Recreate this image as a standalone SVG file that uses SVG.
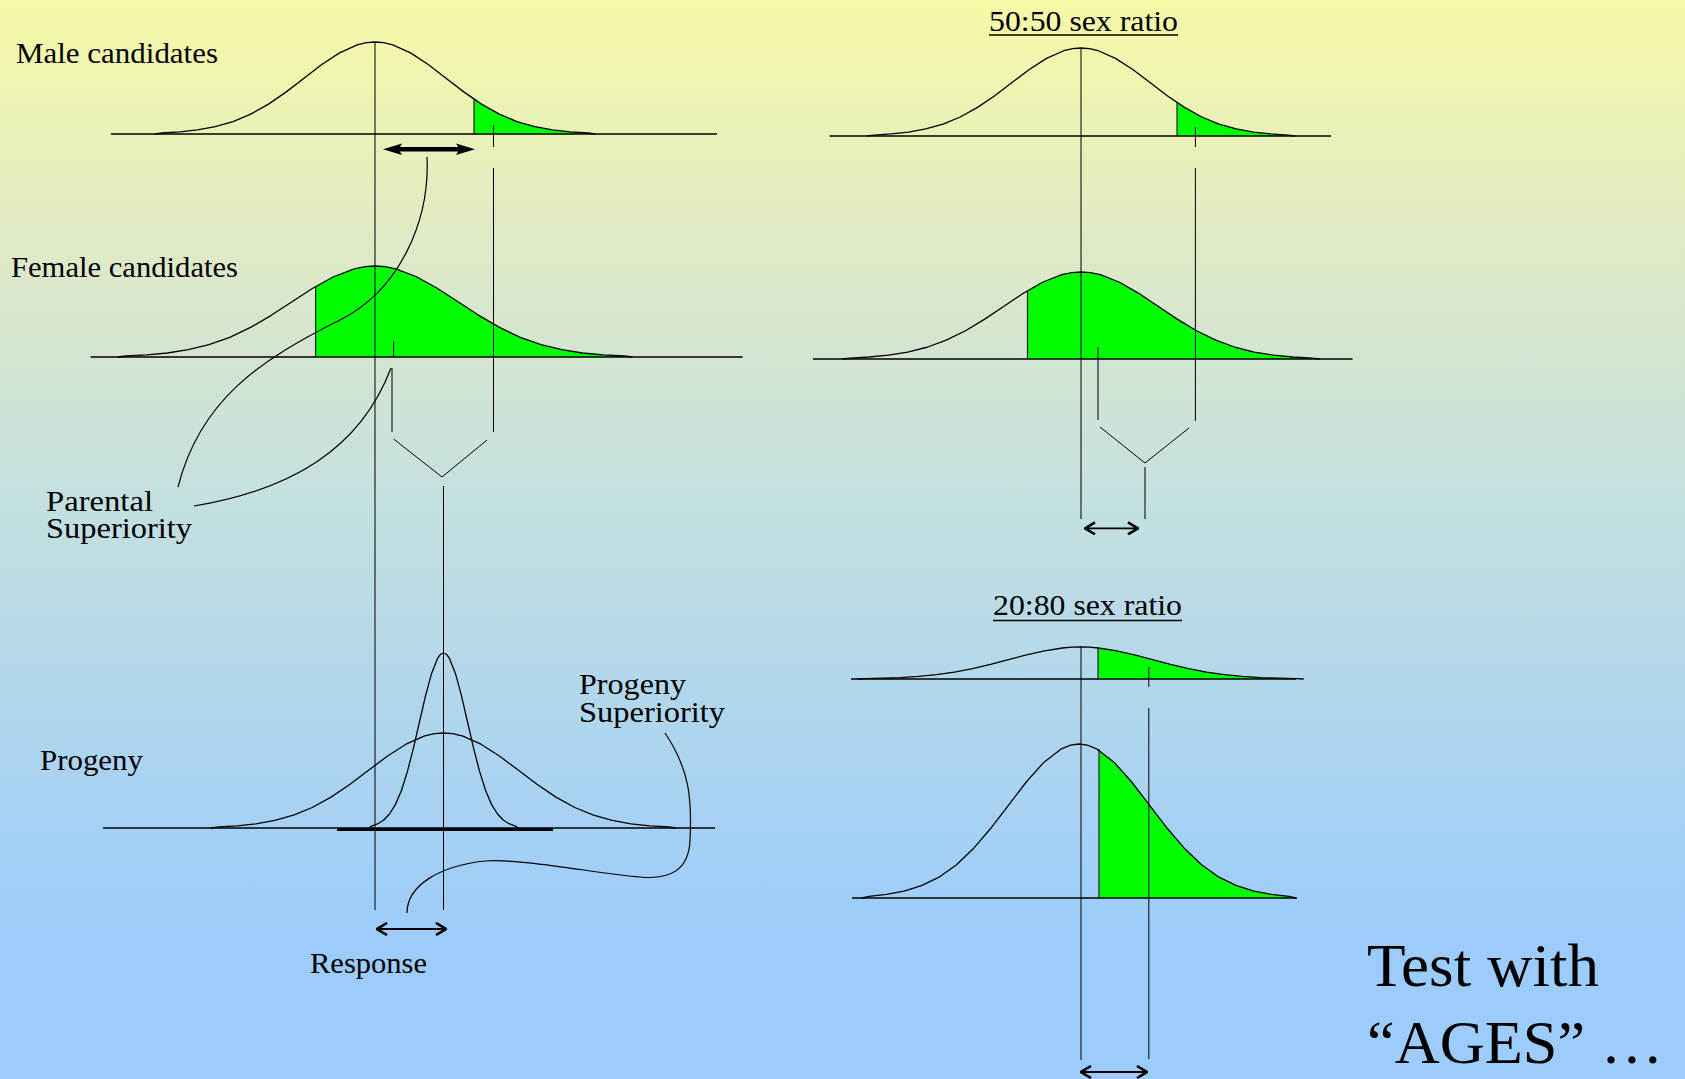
<svg xmlns="http://www.w3.org/2000/svg" width="1685" height="1079" viewBox="0 0 1685 1079">
<style>
.lbl{font-family:"Liberation Serif","Times New Roman",serif;font-size:29px;fill:#000}
.big{font-family:"Liberation Serif","Times New Roman",serif;font-size:62px;fill:#000}
.curve{fill:none;stroke:#000;stroke-width:1.3;stroke-linejoin:round}
.area{fill:#00FF00;stroke:none}
.base{stroke:#000;stroke-width:1.6;fill:none}
.thin{stroke:#000;stroke-width:1;fill:none}
.ptr{stroke:#000;stroke-width:1.2;fill:none}
.dbl{stroke:#000;stroke-width:1.8;fill:none;marker-start:url(#chev);marker-end:url(#chev)}
.edge{stroke:#222;stroke-width:1.2}
</style>
<defs>
<linearGradient id="bg" gradientUnits="userSpaceOnUse" x1="0" y1="0" x2="0" y2="935">
<stop offset="0" stop-color="#F7F9A6"/>
<stop offset="0.28" stop-color="#DDE9C8"/>
<stop offset="0.53" stop-color="#C4E0DF"/>
<stop offset="1" stop-color="#9CCCFB"/>
</linearGradient>
<path id="gauss" vector-effect="non-scaling-stroke" d="M-310,0 L-300,-1.1 L-275,-2.3 L-250,-4.4 L-225,-8 L-200,-13.5 L-175,-21.6 L-150,-32.5 L-125,-45.8 L-100,-60.7 L-75,-75.5 L-50,-88.2 L-25,-96.9 L-12,-99.3 L0,-100 L12,-99.3 L25,-96.9 L50,-88.2 L75,-75.5 L100,-60.7 L125,-45.8 L150,-32.5 L175,-21.6 L200,-13.5 L225,-8 L250,-4.4 L275,-2.3 L300,-1.1 L310,0"/>
<clipPath id="c1"><rect x="474" y="0" width="400" height="1079"/></clipPath>
<clipPath id="c2"><rect x="315.6" y="0" width="500" height="1079"/></clipPath>
<clipPath id="c5"><rect x="1177" y="0" width="400" height="1079"/></clipPath>
<clipPath id="c6"><rect x="1027.5" y="0" width="500" height="1079"/></clipPath>
<clipPath id="c7"><rect x="1098" y="0" width="400" height="1079"/></clipPath>
<clipPath id="c8"><rect x="1099" y="0" width="400" height="1079"/></clipPath>
<marker id="chev" viewBox="0 0 12 14" refX="11" refY="7" markerWidth="12" markerHeight="14" markerUnits="userSpaceOnUse" orient="auto-start-reverse">
<path d="M1,1 L11,7 L1,13" fill="none" stroke="#000" stroke-width="2.6"/>
</marker>
</defs>
<rect x="0" y="0" width="1685" height="1079" fill="url(#bg)"/>

<g id="male-candidates">
<g clip-path="url(#c1)"><use href="#gauss" class="area" transform="translate(375,134) scale(0.71,0.92)"/></g>
<line class="edge" x1="474" y1="99" x2="474" y2="134"/>
<use href="#gauss" class="curve" transform="translate(375,134) scale(0.71,0.92)"/>
<line class="base" x1="111" y1="134" x2="717" y2="134"/>
<text class="lbl" x="16" y="63" textLength="202" lengthAdjust="spacingAndGlyphs">Male candidates</text>
</g>

<g id="female-candidates">
<g clip-path="url(#c2)"><use href="#gauss" class="area" transform="translate(375,357) scale(0.83,0.91)"/></g>
<line class="edge" x1="315.6" y1="286.5" x2="315.6" y2="357"/>
<use href="#gauss" class="curve" transform="translate(375,357) scale(0.83,0.91)"/>
<line class="base" x1="90.6" y1="357" x2="742.6" y2="357"/>
<text class="lbl" x="11" y="277" textLength="227" lengthAdjust="spacingAndGlyphs">Female candidates</text>
</g>

<g id="parental-superiority">
<text class="lbl" x="46" y="511" textLength="107" lengthAdjust="spacingAndGlyphs">Parental</text>
<text class="lbl" x="46" y="538" textLength="146" lengthAdjust="spacingAndGlyphs">Superiority</text>
</g>

<g id="progeny">
<use href="#gauss" class="curve" transform="translate(443.5,828) scale(0.75,0.95)"/>
<use href="#gauss" class="curve" transform="translate(443.5,828) scale(0.24,1.75)"/>
<line class="base" x1="103" y1="828" x2="715" y2="828"/>
<line stroke="#000" stroke-width="2.8" x1="337" y1="829.5" x2="553" y2="829.5"/>
<text class="lbl" x="40" y="770" textLength="103" lengthAdjust="spacingAndGlyphs">Progeny</text>
</g>

<g id="progeny-superiority">
<text class="lbl" x="579" y="694" textLength="107" lengthAdjust="spacingAndGlyphs">Progeny</text>
<text class="lbl" x="579" y="722" textLength="146" lengthAdjust="spacingAndGlyphs">Superiority</text>
</g>

<g id="response">
<text class="lbl" x="310" y="973" textLength="117" lengthAdjust="spacingAndGlyphs">Response</text>
</g>

<g id="ratio-50-50">
<text class="lbl" x="989" y="31" font-size="31" textLength="189" lengthAdjust="spacingAndGlyphs">50:50 sex ratio</text>
<line stroke="#000" stroke-width="1.6" x1="989" y1="35" x2="1178" y2="35"/>
<g clip-path="url(#c5)"><use href="#gauss" class="area" transform="translate(1081,136) scale(0.69,0.88)"/></g>
<line class="edge" x1="1177" y1="102.6" x2="1177" y2="136"/>
<use href="#gauss" class="curve" transform="translate(1081,136) scale(0.69,0.88)"/>
<line class="base" x1="829.6" y1="136" x2="1331" y2="136"/>
<g clip-path="url(#c6)"><use href="#gauss" class="area" transform="translate(1081,359) scale(0.77,0.87)"/></g>
<line class="edge" x1="1027.5" y1="290.7" x2="1027.5" y2="359"/>
<use href="#gauss" class="curve" transform="translate(1081,359) scale(0.77,0.87)"/>
<line class="base" x1="813" y1="359" x2="1352.5" y2="359"/>
</g>

<g id="ratio-20-80">
<text class="lbl" x="993" y="615" font-size="31" textLength="189" lengthAdjust="spacingAndGlyphs">20:80 sex ratio</text>
<line stroke="#000" stroke-width="1.6" x1="993" y1="620.5" x2="1182" y2="620.5"/>
<g clip-path="url(#c7)"><use href="#gauss" class="area" transform="translate(1080.5,679) scale(0.72,0.32)"/></g>
<line class="edge" x1="1098" y1="648" x2="1098" y2="679"/>
<use href="#gauss" class="curve" transform="translate(1080.5,679) scale(0.72,0.32)"/>
<line class="base" x1="851" y1="679" x2="1296" y2="679"/>
<g clip-path="url(#c8)"><use href="#gauss" class="area" transform="translate(1079,898) scale(0.7,1.54)"/></g>
<line class="edge" x1="1099" y1="749" x2="1099" y2="898"/>
<use href="#gauss" class="curve" transform="translate(1079,898) scale(0.7,1.54)"/>
<line class="base" x1="852" y1="898" x2="1297" y2="898"/>
</g>

<g id="test-ages">
<text class="big" x="1367" y="986" textLength="232" lengthAdjust="spacingAndGlyphs">Test with</text>
<text class="big" x="1367" y="1063" textLength="296" lengthAdjust="spacingAndGlyphs">“AGES” …</text>
</g>

<g id="connectors">
<line class="thin" x1="375" y1="42" x2="375" y2="910"/>
<line class="thin" x1="493.5" y1="125" x2="493.5" y2="147"/>
<line class="thin" x1="493.5" y1="168" x2="493.5" y2="432"/>
<line class="thin" x1="393.6" y1="341" x2="393.6" y2="357"/>
<line class="thin" x1="392" y1="368" x2="392" y2="432"/>
<polyline class="thin" points="393.6,439 442,477 487,440"/>
<line class="thin" x1="443.5" y1="486" x2="443.5" y2="910"/>
<line stroke="#000" stroke-width="4.5" x1="395" y1="149.3" x2="463" y2="149.3"/>
<polygon points="383,149.3 402,143.5 398.5,149.3 402,155" fill="#000"/>
<polygon points="475,149.3 456,143.5 459.5,149.3 456,155" fill="#000"/>
<path class="ptr" d="M427,157 C430,220 400,290 340,320 C260,360 200,400 178,487"/>
<path class="ptr" d="M194,506 C290,490 360,450 391,368"/>
<path class="ptr" d="M665,733 C690,770 692,800 690,840 C689,870 670,880 640,877 C600,874 520,858 485,861 C440,866 407,885 407,913"/>
<line class="dbl" x1="377" y1="929" x2="446" y2="929"/>
<line class="thin" x1="1081" y1="48" x2="1081" y2="519"/>
<line class="thin" x1="1195.4" y1="127" x2="1195.4" y2="147"/>
<line class="thin" x1="1195.4" y1="168" x2="1195.4" y2="421"/>
<line class="thin" x1="1098" y1="347" x2="1098" y2="420"/>
<polyline class="thin" points="1100,427 1145,463 1189,428"/>
<line class="thin" x1="1145" y1="467" x2="1145" y2="519"/>
<line class="dbl" x1="1085" y1="528.3" x2="1138" y2="528.3"/>
<line class="thin" x1="1081" y1="646" x2="1081" y2="1060"/>
<line class="thin" x1="1148.8" y1="667" x2="1148.8" y2="687"/>
<line class="thin" x1="1148.8" y1="708" x2="1148.8" y2="1059"/>
<line class="dbl" x1="1081" y1="1072" x2="1147" y2="1072"/>
</g>
</svg>
